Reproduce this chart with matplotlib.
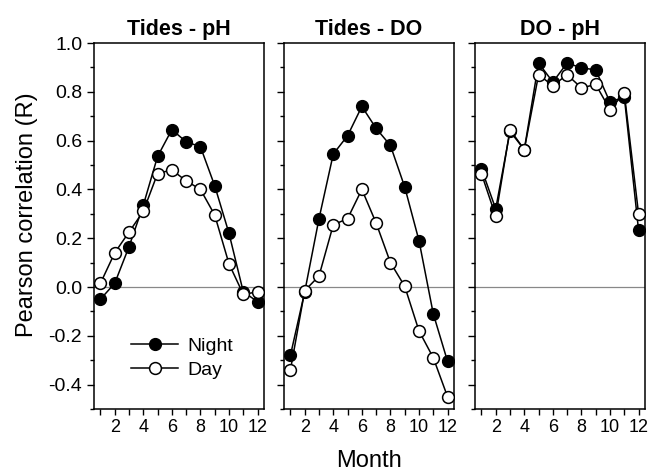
import matplotlib
matplotlib.use("Agg")
import matplotlib.pyplot as plt
import numpy as np

plt.rcParams['font.family'] = ['Liberation Sans', 'DejaVu Sans']

months = [1, 2, 3, 4, 5, 6, 7, 8, 9, 10, 11, 12]
titles = ["Tides - pH", "Tides - DO", "DO - pH"]

# tides - pH
tp_night = [-0.05, 0.015, 0.165, 0.335, 0.535, 0.645, 0.595, 0.575, 0.415, 0.22, -0.02, -0.06]
tp_day = [0.015, 0.14, 0.225, 0.31, 0.465, 0.48, 0.435, 0.40, 0.295, 0.095, -0.03, -0.02]
# tides - DO
td_night = [-0.28, -0.02, 0.28, 0.545, 0.62, 0.74, 0.65, 0.58, 0.41, 0.19, -0.11, -0.305]
td_day = [-0.34, -0.015, 0.045, 0.255, 0.28, 0.40, 0.262, 0.10, 0.003, -0.18, -0.29, -0.45]
# DO - pH
dp_night = [0.485, 0.32, 0.638, 0.563, 0.918, 0.84, 0.918, 0.898, 0.89, 0.757, 0.78, 0.232]
dp_day = [0.465, 0.29, 0.645, 0.563, 0.87, 0.825, 0.87, 0.816, 0.83, 0.727, 0.795, 0.30]

nights = [tp_night, td_night, dp_night]
days = [tp_day, td_day, dp_day]

fig = plt.figure(figsize=(6.6, 4.71), dpi=100)

lefts = [94, 284, 475]
for i in range(3):
    ax = fig.add_axes([lefts[i] / 660, 1 - 409 / 471, 170 / 660, (409 - 43) / 471])
    ax.axhline(0, color='#888888', lw=0.9, zorder=1)
    ax.plot(months, nights[i], '-o', color='black', mfc='black', mec='black',
            ms=8.5, lw=1.1, label='Night', zorder=3)
    ax.plot(months, days[i], '-o', color='black', mfc='white', mec='black',
            ms=8.5, lw=1.1, mew=1.1, label='Day', zorder=4)
    ax.set_xlim(0.55, 12.45)
    ax.set_ylim(-0.5, 1.0)
    ax.set_xticks(months)
    ax.set_xticklabels([str(m) if m % 2 == 0 else '' for m in months], fontsize=13)
    ax.set_yticks(np.arange(-0.4, 1.01, 0.2))
    ax.set_yticks(np.arange(-0.5, 1.01, 0.1), minor=True)
    ax.tick_params(which='both', direction='out', width=1, colors='black')
    ax.tick_params(which='major', length=5)
    ax.tick_params(which='minor', length=3)
    ax.tick_params(axis='x', length=4, pad=3)
    if i == 0:
        ax.set_yticklabels(['%.1f' % v for v in np.arange(-0.4, 1.01, 0.2)], fontsize=14)
        ax.set_ylabel('Pearson correlation (R)', fontsize=17, labelpad=2)
        ax.yaxis.set_label_coords(-0.33, 0.53)
        ax.legend(loc='lower left', bbox_to_anchor=(0.15, 0.05), frameon=False,
                  fontsize=14, handlelength=2.4, handletextpad=0.5, labelspacing=0.35,
                  borderaxespad=0.2)
    else:
        ax.set_yticklabels([])
    if i == 1:
        ax.set_xlabel('Month', fontsize=17, labelpad=10)
    ax.set_title(titles[i], fontsize=15.5, fontweight='bold', pad=6)
    for s in ax.spines.values():
        s.set_linewidth(1.1)

fig.savefig('out.png', dpi=100)
